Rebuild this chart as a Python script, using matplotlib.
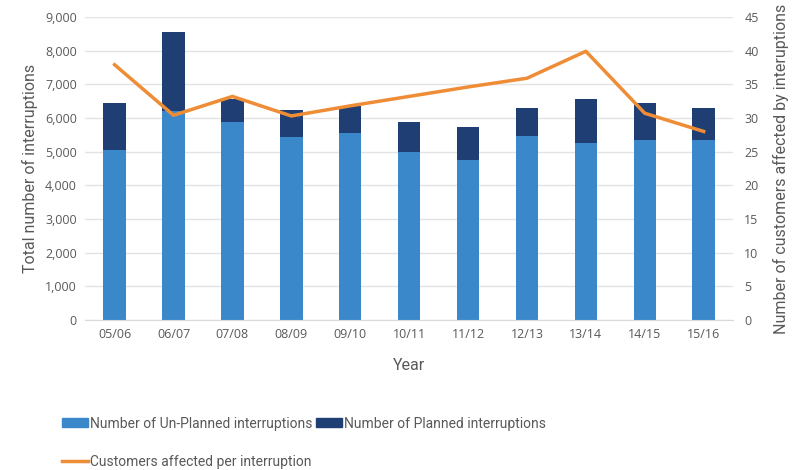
import numpy as np
import matplotlib
matplotlib.use("Agg")
import matplotlib.pyplot as plt
from matplotlib.patches import Patch
from matplotlib.lines import Line2D

years = ["05/06", "06/07", "07/08", "08/09", "09/10", "10/11",
         "11/12", "12/13", "13/14", "14/15", "15/16"]
unplanned = [5050, 6200, 5890, 5440, 5560, 5000, 4750, 5460, 5270, 5350, 5350]
total = [6450, 8540, 6560, 6250, 6350, 5890, 5720, 6290, 6560, 6440, 6290]
planned = [t - u for t, u in zip(total, unplanned)]
customers = [37.9, 30.4, 33.2, 30.3, 31.8, 33.2, 34.6, 35.9, 39.9, 30.7, 28.0]

c_unpl = "#3a88c9"
c_plan = "#1f3f74"
c_line = "#ef8d36"
c_text = "#595959"
lbl_font = ['Roboto', 'DejaVu Sans']

plt.rcParams['font.family'] = ['Open Sans', 'DejaVu Sans']

fig = plt.figure(figsize=(7.96, 4.70), dpi=100)
ax = fig.add_axes([0.107, 0.319, 0.814, 0.645])
x = np.arange(len(years))
ax.bar(x, unplanned, width=0.38, color=c_unpl, zorder=2)
ax.bar(x, planned, width=0.38, bottom=unplanned, color=c_plan, zorder=2)
ax.set_ylim(0, 9000)
ax.set_xlim(-0.5, 10.5)
ax.set_yticks(np.arange(0, 9001, 1000))
ax.set_yticklabels([f"{v:,}" for v in range(0, 9001, 1000)])
ax.set_xticks(x)
ax.set_xticklabels(years)
ax.grid(axis='y', color='#e3e3e3', linewidth=1, zorder=0)
for s in ax.spines.values():
    s.set_visible(False)
ax.spines['bottom'].set_visible(True)
ax.spines['bottom'].set_color('#d9d9d9')
ax.tick_params(length=0, labelsize=9, colors=c_text, pad=6)
ax.set_ylabel("Total number of interruptions", fontsize=11.5, color=c_text,
              labelpad=5, family=lbl_font)
ax.set_xlabel("Year", fontsize=11.5, color=c_text, labelpad=12, family=lbl_font)

ax2 = ax.twinx()
ax2.plot(x, customers, color=c_line, linewidth=2.5, zorder=3)
ax2.set_ylim(0, 45)
ax2.set_yticks(np.arange(0, 46, 5))
for s in ax2.spines.values():
    s.set_visible(False)
ax2.tick_params(length=0, labelsize=9, colors=c_text, pad=8)
ax2.set_ylabel("Number of customers affected by interuptions", fontsize=11.5,
               color=c_text, labelpad=10, family=lbl_font)

handles = [Patch(color=c_unpl), Line2D([0], [0], color=c_line, lw=2.5), Patch(color=c_plan)]
labels = ["Number of Un-Planned interruptions", "Customers affected per interruption",
          "Number of Planned interruptions"]
leg = fig.legend(handles, labels, ncol=2, loc='upper left', bbox_to_anchor=(0.062, 0.14),
                 frameon=False, prop={'family': lbl_font, 'size': 10},
                 handlelength=1.9, handleheight=0.6,
                 handletextpad=0.15, columnspacing=0.2, labelspacing=1.75)
for t in leg.get_texts():
    t.set_color(c_text)

fig.savefig("out.png", dpi=100)
